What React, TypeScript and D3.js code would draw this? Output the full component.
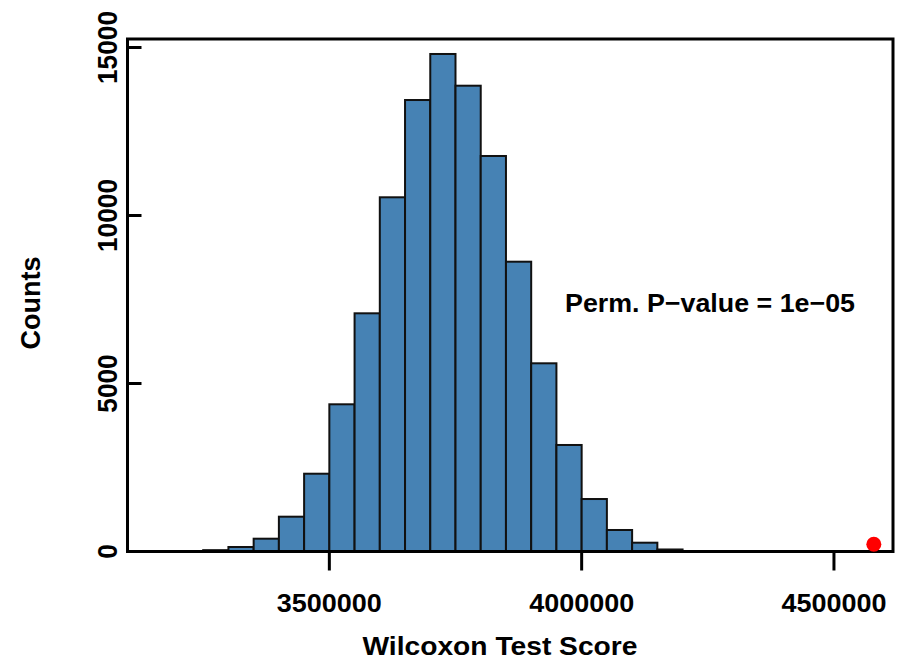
import React, { useRef, useEffect } from 'react';
import * as d3 from 'd3';

// histogram of permuted Wilcoxon scores
const binStarts = [
  3250000, 3300000, 3350000, 3400000, 3450000, 3500000, 3550000, 3600000, 3650000, 3700000,
  3750000, 3800000, 3850000, 3900000, 3950000, 4000000, 4050000, 4100000, 4150000,
];
const counts = [
  40, 134, 381, 1036, 2315, 4381, 7089, 10542, 13437, 14807,
  13863, 11771, 8625, 5601, 3170, 1562, 640, 262, 60,
];
const binWidth = 50000;

const xTicks = [3500000, 4000000, 4500000];
const yTicks = [0, 5000, 10000, 15000];

const observedScore = 4579000;
const observedY = 214;
const pLabel = 'Perm. P\u2212value = 1e\u221205';

const W = 897;
const H = 661;
const FONT = "'Liberation Sans', Arial, Helvetica, sans-serif";

const App = () => {
  const svgRef = useRef(null);

  useEffect(() => {
    const svg = d3.select(svgRef.current);
    svg.selectAll('*').remove();

    const left = 127.5, right = 893, top = 39, bottom = 551.5;

    const x = d3.scaleLinear().domain([3100000, 4617000]).range([left, right]);
    const y = d3.scaleLinear().domain([0, 15253]).range([bottom, top]);

    const data = binStarts.map((s, i) => ({ x0: s, x1: s + binWidth, n: counts[i] }));

    svg.append('g')
      .selectAll('rect')
      .data(data)
      .enter()
      .append('rect')
      .attr('x', d => x(d.x0))
      .attr('y', d => y(d.n))
      .attr('width', d => x(d.x1) - x(d.x0))
      .attr('height', d => y(0) - y(d.n))
      .attr('fill', '#4682b4')
      .attr('stroke', '#111')
      .attr('stroke-width', 2);

    // box
    svg.append('rect')
      .attr('x', left)
      .attr('y', top)
      .attr('width', right - left)
      .attr('height', bottom - top)
      .attr('fill', 'none')
      .attr('stroke', '#000')
      .attr('stroke-width', 3);

    // x axis ticks + labels
    const xg = svg.append('g');
    xTicks.forEach(t => {
      xg.append('line')
        .attr('x1', x(t)).attr('x2', x(t))
        .attr('y1', bottom).attr('y2', bottom + 19)
        .attr('stroke', '#000').attr('stroke-width', 3);
      xg.append('text')
        .attr('x', x(t)).attr('y', 612)
        .attr('text-anchor', 'middle')
        .attr('font-family', FONT).attr('font-weight', 'bold').attr('font-size', 26)
        .attr('textLength', 105).attr('lengthAdjust', 'spacingAndGlyphs')
        .text(t);
    });

    // y axis ticks (inward) + rotated labels
    const yg = svg.append('g');
    yTicks.forEach(t => {
      yg.append('line')
        .attr('x1', left).attr('x2', left + 14)
        .attr('y1', y(t)).attr('y2', y(t))
        .attr('stroke', '#000').attr('stroke-width', 3);
      const s = String(t);
      yg.append('text')
        .attr('transform', `translate(117,${y(t)}) rotate(-90)`)
        .attr('text-anchor', 'middle')
        .attr('font-family', FONT).attr('font-weight', 'bold').attr('font-size', 28)
        .attr('textLength', s.length * 14.6).attr('lengthAdjust', 'spacingAndGlyphs')
        .text(s);
    });

    // axis titles
    svg.append('text')
      .attr('x', 500).attr('y', 655)
      .attr('text-anchor', 'middle')
      .attr('font-family', FONT).attr('font-weight', 'bold').attr('font-size', 26)
      .attr('textLength', 275).attr('lengthAdjust', 'spacingAndGlyphs')
      .text('Wilcoxon Test Score');

    svg.append('text')
      .attr('transform', 'translate(40,303) rotate(-90)')
      .attr('text-anchor', 'middle')
      .attr('font-family', FONT).attr('font-weight', 'bold').attr('font-size', 28)
      .attr('textLength', 93).attr('lengthAdjust', 'spacingAndGlyphs')
      .text('Counts');

    // p-value annotation
    svg.append('text')
      .attr('x', 565).attr('y', 312)
      .attr('font-family', FONT).attr('font-weight', 'bold').attr('font-size', 26)
      .attr('textLength', 290).attr('lengthAdjust', 'spacingAndGlyphs')
      .text(pLabel);

    // observed statistic
    svg.append('circle')
      .attr('cx', x(observedScore))
      .attr('cy', y(observedY))
      .attr('r', 7.5)
      .attr('fill', '#ff0000');
  }, []);

  return (
    <svg
      ref={svgRef}
      width={W}
      height={H}
      style={{ position: 'absolute', left: 0, top: 0, background: '#fff' }}
    ></svg>
  );
};

export default App;
